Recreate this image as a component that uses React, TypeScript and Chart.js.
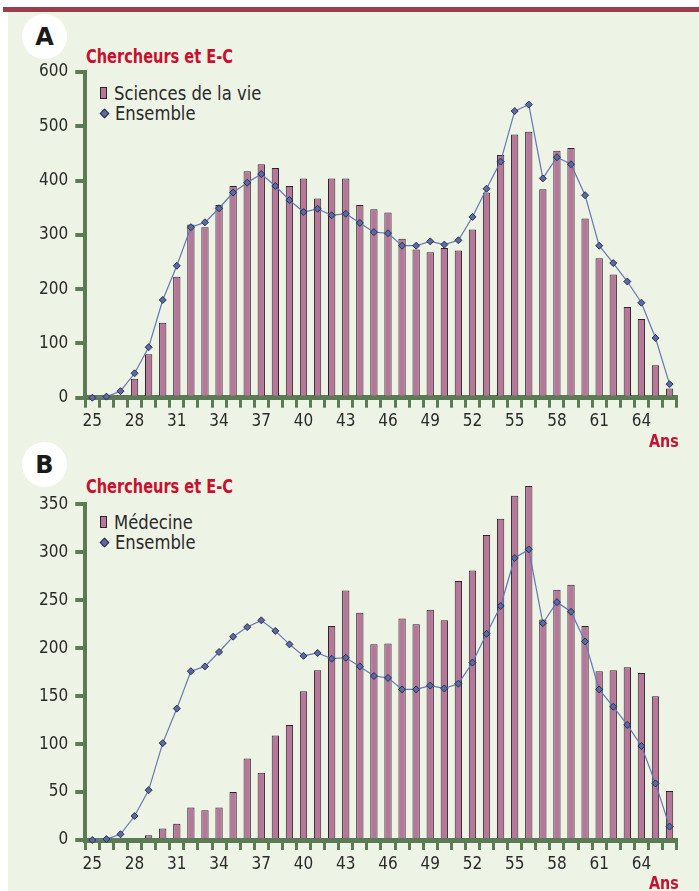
import React, { useEffect, useRef } from 'react';
import { Chart, registerables } from 'chart.js';

Chart.register(...registerables);

// ---------- DATA ----------
const ages = [
  '25', '26', '27', '28', '29', '30', '31', '32', '33', '34', '35', '36', '37', '38',
  '39', '40', '41', '42', '43', '44', '45', '46', '47', '48', '49', '50', '51', '52',
  '53', '54', '55', '56', '57', '58', '59', '60', '61', '62', '63', '64', '65', '66',
];
const tickLabels = ['25', '28', '31', '34', '37', '40', '43', '46', '49', '52', '55', '58', '61', '64'];

const sciencesVie = [
  0, 0, 5, 35, 80, 138, 223, 319, 314, 355, 390, 417, 430, 423,
  390, 404, 367, 404, 404, 355, 347, 341, 293, 273, 268, 276, 271, 310,
  378, 447, 485, 490, 384, 455, 460, 330, 257, 227, 167, 145, 60, 17,
];
const ensembleA = [
  0, 2, 12, 45, 93, 180, 243, 314, 323, 349, 378, 396, 412, 390,
  364, 342, 348, 336, 339, 322, 305, 303, 280, 280, 288, 282, 290, 333,
  385, 435, 528, 540, 404, 443, 430, 373, 280, 248, 214, 175, 110, 25,
];
const medecine = [
  0, 0, 0, 2, 5, 12, 17, 34, 31, 34, 50, 85, 70, 109,
  120, 155, 177, 223, 260, 237, 204, 205, 231, 225, 240, 229, 270, 281,
  318, 335, 359, 369, 230, 261, 266, 223, 176, 177, 180, 174, 150, 51,
];
const ensembleB = [
  0, 1, 6, 25, 52, 101, 137, 176, 181, 196, 212, 222, 229, 218,
  204, 192, 195, 189, 190, 181, 171, 169, 157, 157, 161, 158, 163, 185,
  215, 244, 294, 303, 226, 248, 238, 207, 157, 139, 120, 98, 59, 14,
];

const titleText = 'Chercheurs et E-C';
const xTitle = 'Ans';
const ensembleLabel = 'Ensemble';

// ---------- STYLE ----------
const GREEN = '#5b7b55';
const BAR_FILL = '#b5789b';
const BAR_BORDER = '#2e2428';
const LINE = '#6676b4';
const POINT_FILL = '#5a6aa8';
const POINT_BORDER = '#2a2d45';
const RED = '#c8102e';
const TEXT = '#2a2a2a';
const BG = '#eef4e5';
const NARROW = '"Liberation Sans Narrow", "DejaVu Sans Condensed", "Roboto", sans-serif';

type PanelProps = {
  top: number;
  height: number;
  bars: number[];
  line: number[];
  barLabel: string;
  yMax: number;
  yStep: number;
  areaTop: number;
  areaBottom: number;
};

function ChartPanel(p: PanelProps) {
  const ref = useRef<HTMLCanvasElement | null>(null);
  useEffect(() => {
    if (!ref.current) return;
    const xAxisHeight = p.height - p.areaBottom;
    const chart = new Chart(ref.current, {
      type: 'bar',
      data: {
        labels: ages,
        datasets: [
          {
            type: 'line',
            label: ensembleLabel,
            data: p.line,
            order: 0,
            clip: false,
            borderColor: LINE,
            borderWidth: 1.2,
            tension: 0,
            pointStyle: 'rectRot',
            pointRadius: 3.5,
            pointBackgroundColor: POINT_FILL,
            pointBorderColor: POINT_BORDER,
            pointBorderWidth: 1,
          } as any,
          {
            type: 'bar',
            label: p.barLabel,
            data: p.bars,
            order: 1,
            clip: false,
            backgroundColor: BAR_FILL,
            borderColor: BAR_BORDER,
            borderWidth: 1,
            borderSkipped: 'bottom',
            barPercentage: 0.52,
            categoryPercentage: 1,
          } as any,
        ],
      },
      options: {
        animation: false,
        responsive: false,
        maintainAspectRatio: false,
        devicePixelRatio: 1,
        layout: { padding: { left: 0, right: 22.4, top: p.areaTop, bottom: 0 } },
        plugins: { legend: { display: false }, tooltip: { enabled: false } },
        scales: {
          x: {
            type: 'category',
            offset: true,
            grid: {
              offset: true,
              drawOnChartArea: false,
              drawTicks: true,
              tickLength: 10,
              color: GREEN,
              lineWidth: 3,
            },
            border: { display: true, color: GREEN, width: 5 },
            ticks: {
              autoSkip: false,
              maxRotation: 0,
              minRotation: 0,
              color: TEXT,
              padding: 4,
              font: { family: NARROW, size: 17 },
              callback: (_v: any, i: number) => (tickLabels.includes(ages[i]) ? ages[i] : ''),
            },
            afterFit: (s: any) => {
              s.height = xAxisHeight;
            },
          },
          y: {
            min: 0,
            max: p.yMax,
            ticks: {
              stepSize: p.yStep,
              color: TEXT,
              padding: 7,
              font: { family: NARROW, size: 17 },
            },
            grid: {
              drawOnChartArea: false,
              drawTicks: true,
              tickLength: 10,
              color: GREEN,
              lineWidth: 4,
            },
            border: { display: true, color: GREEN, width: 4 },
            afterFit: (s: any) => {
              s.width = 85.3;
            },
          },
        },
      },
    });
    return () => chart.destroy();
  }, []);
  return (
    <canvas
      ref={ref}
      width={699}
      height={p.height}
      style={{ position: 'absolute', left: 0, top: p.top, width: 699, height: p.height }}
    />
  );
}

function Badge({ letter, top }: { letter: string; top: number }) {
  return (
    <div
      style={{
        position: 'absolute',
        left: 22,
        top,
        width: 45,
        height: 45,
        borderRadius: '50%',
        background: '#ffffff',
        display: 'flex',
        alignItems: 'center',
        justifyContent: 'center',
        fontFamily: '"DejaVu Sans", sans-serif',
        fontWeight: 900,
        fontSize: 24,
        color: '#1a1a1a',
      }}
    >
      {letter}
    </div>
  );
}

function Legend({ top, barLabel }: { top: number; barLabel: string }) {
  const row: React.CSSProperties = {
    position: 'absolute',
    left: 100,
    display: 'flex',
    alignItems: 'center',
    fontFamily: NARROW,
    fontSize: 19,
    color: TEXT,
    lineHeight: '20px',
    whiteSpace: 'nowrap',
  };
  return (
    <>
      <div style={{ ...row, top }}>
        <span
          style={{
            display: 'inline-block',
            width: 5,
            height: 10,
            background: BAR_FILL,
            border: `1px solid ${BAR_BORDER}`,
            marginRight: 7,
          }}
        />
        <span style={{ display: 'inline-block', transform: 'scaleX(0.96)', transformOrigin: 'left center' }}>{barLabel}</span>
      </div>
      <div style={{ ...row, top: top + 20 }}>
        <span
          style={{
            display: 'inline-block',
            width: 5,
            height: 5,
            background: POINT_FILL,
            border: `1px solid ${POINT_BORDER}`,
            transform: 'rotate(45deg)',
            marginLeft: 1,
            marginRight: 7,
          }}
        />
        <span style={{ display: 'inline-block', transform: 'scaleX(0.96)', transformOrigin: 'left center' }}>{ensembleLabel}</span>
      </div>
    </>
  );
}

function Title({ top }: { top: number }) {
  return (
    <div
      style={{
        position: 'absolute',
        left: 86,
        top,
        fontFamily: NARROW,
        fontWeight: 700,
        fontSize: 20,
        lineHeight: '20px',
        color: RED,
        whiteSpace: 'nowrap',
        transform: 'scaleX(0.81)',
        transformOrigin: 'left top',
      }}
    >
      {titleText}
    </div>
  );
}

function AxisName({ top }: { top: number }) {
  return (
    <div
      style={{
        position: 'absolute',
        left: 649,
        top,
        fontFamily: NARROW,
        fontWeight: 700,
        fontSize: 18,
        lineHeight: '18px',
        color: RED,
        transform: 'scaleX(0.88)',
        transformOrigin: 'left top',
      }}
    >
      {xTitle}
    </div>
  );
}

export default function App() {
  return (
    <div style={{ position: 'absolute', left: 0, top: 0, width: 699, height: 891, background: '#ffffff', overflow: 'hidden' }}>
      <div style={{ position: 'absolute', left: 8, top: 12, width: 691, height: 879, background: BG }} />
      <div style={{ position: 'absolute', left: 3, top: 7, width: 696, height: 5, background: '#9a3d4c' }} />

      <Badge letter="A" top={14} />
      <Title top={46} />
      <Legend top={83} barLabel="Sciences de la vie" />
      <ChartPanel
        top={0}
        height={440}
        bars={sciencesVie}
        line={ensembleA}
        barLabel="Sciences de la vie"
        yMax={600}
        yStep={100}
        areaTop={72}
        areaBottom={397.7}
      />
      <AxisName top={432} />

      <Badge letter="B" top={442} />
      <Title top={476} />
      <Legend top={512} barLabel="Médecine" />
      <ChartPanel
        top={440}
        height={451}
        bars={medecine}
        line={ensembleB}
        barLabel="Médecine"
        yMax={350}
        yStep={50}
        areaTop={64.3}
        areaBottom={400}
      />
      <AxisName top={874} />
    </div>
  );
}
